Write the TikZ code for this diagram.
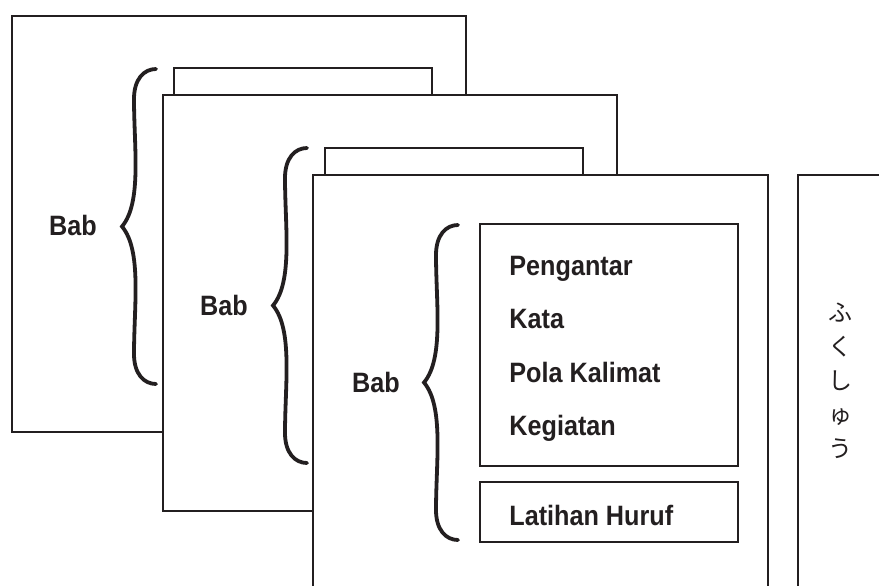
\documentclass[tikz,border=0pt]{standalone}
\usepackage{fontspec}
\setmainfont{Liberation Sans}[FakeStretch=0.9]
\newfontfamily\jpfont{Noto Sans CJK JP}
\usetikzlibrary{positioning}
\usetikzlibrary{calc}
\definecolor{ink}{RGB}{35,31,32}

\begin{document}
\begin{tikzpicture}[x=0.5pt,y=-0.5pt]
			\tikzstyle{page}=[draw=ink, fill=white, line width=1pt]
			\tikzstyle{part}=[draw=ink, line width=0.7pt]
			\tikzstyle{bab}=[draw=ink, line width=1.9pt, line cap=round, to path={
				let \p1=(\tikztostart), \p2=(\tikztotarget),
				\p3=($(\tikztostart)!0.5!(\tikztotarget)$),
				\p4=($(\tikztostart)!0.25!(\tikztotarget)$),
				\p5=($(\tikztostart)!0.75!(\tikztotarget)$) in
				(\tikztostart) .. controls (\x1-6pt,\y1) and (\x1-11pt,\y1+5pt) .. (\x1-11pt,\y1+15pt)
				.. controls (\x1-11pt,\y4) and (\x1-7pt,\y3-12pt) .. (\x1-17pt,\y3)
				.. controls (\x1-7pt,\y3+12pt) and (\x1-11pt,\y5) .. (\x1-11pt,\y2-15pt)
				.. controls (\x1-11pt,\y2-5pt) and (\x1-6pt,\y2) .. (\tikztotarget)}]
			\tikzstyle{lbl}=[font=\fontsize{14}{16}\selectfont\bfseries, text=ink, inner sep=0pt]
			
			\useasboundingbox (0,0) rectangle (879,585);
			\clip (0,0) rectangle (879,585);
			
			% halaman 1
			\draw [page] (12,16) rectangle (466,432);
			\coordinate (k1a) at (156,384);
			\coordinate (k1b) at (156,69);
			\draw [bab] (k1a) to (k1b);
			\draw node at (73,235) [lbl, anchor=base] (bab1) {Bab};
			\draw [page] (174,68) rectangle (432,120);
			
			% halaman 2
			\draw [page] (163,95) rectangle (617,511);
			\coordinate (k2a) at (307,463);
			\coordinate (k2b) at (307,148);
			\draw [bab] (k2a) to (k2b);
			\draw node at (224,315) [lbl, anchor=base] (bab2) {Bab};
			\draw [page] (325,148) rectangle (583,200);
			
			% halaman 3
			\draw [page] (313,175) rectangle (768,640);
			\coordinate (k3a) at (458,540);
			\coordinate (k3b) at (458,225);
			\draw [bab] (k3a) to (k3b);
			\draw node at (376,392) [lbl, anchor=base] (bab3) {Bab};
			
			\draw [part] (480,224) rectangle (738,466);
			\draw node at (509,275) [lbl, anchor=base west] (p1) {Pengantar};
			\draw node at (509,328) [lbl, anchor=base west] (p2) {Kata};
			\draw node at (509,382) [lbl, anchor=base west] (p3) {Pola Kalimat};
			\draw node at (509,435) [lbl, anchor=base west] (p4) {Kegiatan};
			\draw [part] (480,482) rectangle (738,542);
			\draw node at (509,525) [lbl, anchor=base west] (p5) {Latihan Huruf};
			
			% halaman 4
			\draw [page] (798,175) rectangle (940,640);
			\draw node at (840,381) [font=\jpfont\fontsize{12}{17}\selectfont, align=center, text=ink] (fuku) {ふ\\く\\し\\ゅ\\う};
\end{tikzpicture}
\end{document}
